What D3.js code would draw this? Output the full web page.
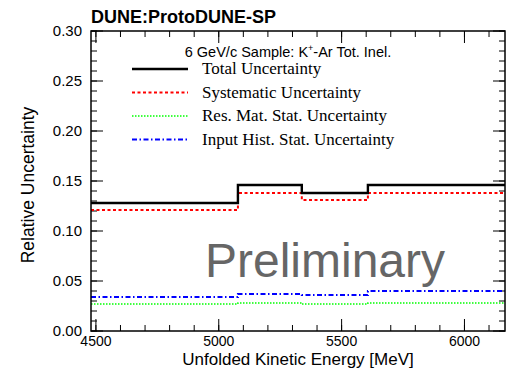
<!DOCTYPE html>
<html>
<head>
<meta charset="utf-8">
<script src="https://cdn.jsdelivr.net/npm/d3@7"></script>
<style>
  body { margin: 0; background: #fff; }
  text { font-family: "Liberation Sans", Arial, sans-serif; }
</style>
</head>
<body>
<div id="data-viz"></div>
<script>
// bin edges and per-bin values
var binEdges = [4480, 5078, 5338, 5607, 6165];
var totalUnc = [0.128, 0.146, 0.138, 0.146];
var systUnc = [0.121, 0.138, 0.131, 0.138];
var resMatUnc = [0.027, 0.028, 0.027, 0.028];
var inputHistUnc = [0.034, 0.037, 0.036, 0.040];
var xTicks = [4500, 5000, 5500, 6000];
var yTicks = [0, 0.05, 0.10, 0.15, 0.20, 0.25, 0.30];

var margin = {top: 31, right: 3, bottom: 38, left: 91},
    width = 508 - margin.left - margin.right,
    height = 369 - margin.top - margin.bottom;

var svg = d3.select("#data-viz")
  .append("svg")
    .attr("width", 508)
    .attr("height", 369)
  .append("g")
    .attr("transform", "translate(" + margin.left + "," + margin.top + ")");

var x = d3.scaleLinear()
  .domain([binEdges[0], binEdges[binEdges.length - 1]])
  .range([0, width]);

var y = d3.scaleLinear()
  .domain([0, 0.30])
  .range([height, 0]);

// ROOT-style ticks on all four sides
var xMinor = d3.range(4500, 6200, 100);
var yMinor = d3.range(0, 0.3001, 0.01);

function tickSet(vals, len, horizontal) {
  vals.forEach(function(v) {
    if (horizontal) {
      var px = x(v);
      if (px < 0 || px > width) return;
      svg.append("line").attr("x1", px).attr("x2", px).attr("y1", height).attr("y2", height - len)
        .attr("stroke", "#000").attr("stroke-width", 1);
      svg.append("line").attr("x1", px).attr("x2", px).attr("y1", 0).attr("y2", len)
        .attr("stroke", "#000").attr("stroke-width", 1);
    } else {
      var py = y(v);
      svg.append("line").attr("x1", 0).attr("x2", len).attr("y1", py).attr("y2", py)
        .attr("stroke", "#000").attr("stroke-width", 1);
      svg.append("line").attr("x1", width).attr("x2", width - len).attr("y1", py).attr("y2", py)
        .attr("stroke", "#000").attr("stroke-width", 1);
    }
  });
}
tickSet(xMinor, 6, true);
tickSet(xTicks, 12, true);
tickSet(yMinor, 6, false);
tickSet(yTicks, 12, false);

// tick labels
svg.selectAll(".xlab")
  .data(xTicks)
  .enter().append("text")
    .attr("x", function(d) { return x(d); })
    .attr("y", height + 15)
    .attr("text-anchor", "middle")
    .style("font-size", "14px")
    .text(function(d) { return d; });

svg.selectAll(".ylab")
  .data(yTicks)
  .enter().append("text")
    .attr("x", -9)
    .attr("y", function(d) { return y(d) + 5; })
    .attr("text-anchor", "end")
    .style("font-size", "15px")
    .text(function(d) { return d3.format(".2f")(d); });

// axis titles
svg.append("text")
  .attr("x", width / 2)
  .attr("y", height + 34)
  .attr("text-anchor", "middle")
  .style("font-size", "17px")
  .text("Unfolded Kinetic Energy [MeV]");

svg.append("text")
  .attr("transform", "translate(-57," + (height / 2 + 4) + ") rotate(-90)")
  .attr("text-anchor", "middle")
  .style("font-size", "17.5px")
  .text("Relative Uncertainty");

// histogram step paths
function stepData(vals) {
  var pts = [];
  vals.forEach(function(v, i) {
    pts.push([binEdges[i], v]);
    pts.push([binEdges[i + 1], v]);
  });
  return pts;
}
var line = d3.line()
  .x(function(d) { return x(d[0]); })
  .y(function(d) { return y(d[1]); });

var series = [
  {name: "Res. Mat. Stat. Uncertainty", vals: resMatUnc, color: "#00ff00", width: 1.5, dash: "1.5,1.5"},
  {name: "Input Hist. Stat. Uncertainty", vals: inputHistUnc, color: "#0000ff", width: 2, dash: "5,2.5,1.5,2.5"},
  {name: "Systematic Uncertainty", vals: systUnc, color: "#ff0000", width: 2, dash: "3,2.5"},
  {name: "Total Uncertainty", vals: totalUnc, color: "#000000", width: 2.4, dash: null}
];

series.forEach(function(s) {
  svg.append("path")
    .datum(stepData(s.vals))
    .attr("fill", "none")
    .attr("stroke", s.color)
    .attr("stroke-width", s.width)
    .attr("stroke-dasharray", s.dash)
    .attr("d", line);
});

// frame
svg.append("rect")
  .attr("width", width).attr("height", height)
  .attr("fill", "none").attr("stroke", "#000").attr("stroke-width", 1.5);

// Preliminary watermark
svg.append("text")
  .attr("x", 114)
  .attr("y", 246)
  .style("font-size", "48px")
  .attr("fill", "#666666")
  .text("Preliminary");

// title
svg.append("text")
  .attr("x", 0)
  .attr("y", -8)
  .style("font-size", "18px")
  .style("font-weight", "bold")
  .text("DUNE:ProtoDUNE-SP");

// legend
var header = svg.append("text")
  .attr("x", 197)
  .attr("y", 26)
  .attr("text-anchor", "middle")
  .style("font-size", "14.5px");
header.append("tspan").text("6 GeV/c Sample: K");
header.append("tspan").attr("dy", -6).style("font-size", "9px").text("+");
header.append("tspan").attr("dy", 6).text("-Ar Tot. Inel.");

var legendOrder = [series[3], series[2], series[0], series[1]];
legendOrder.forEach(function(s, i) {
  var ly = 38 + i * 23.5;
  svg.append("line")
    .attr("x1", 41).attr("x2", 97)
    .attr("y1", ly).attr("y2", ly)
    .attr("stroke", s.color)
    .attr("stroke-width", s.width)
    .attr("stroke-dasharray", s.dash);
  svg.append("text")
    .attr("x", 111)
    .attr("y", ly + 5)
    .style("font-family", "'Liberation Serif', 'Times New Roman', serif")
    .style("font-size", "17px")
    .text(s.name);
});
</script>
</body>
</html>
